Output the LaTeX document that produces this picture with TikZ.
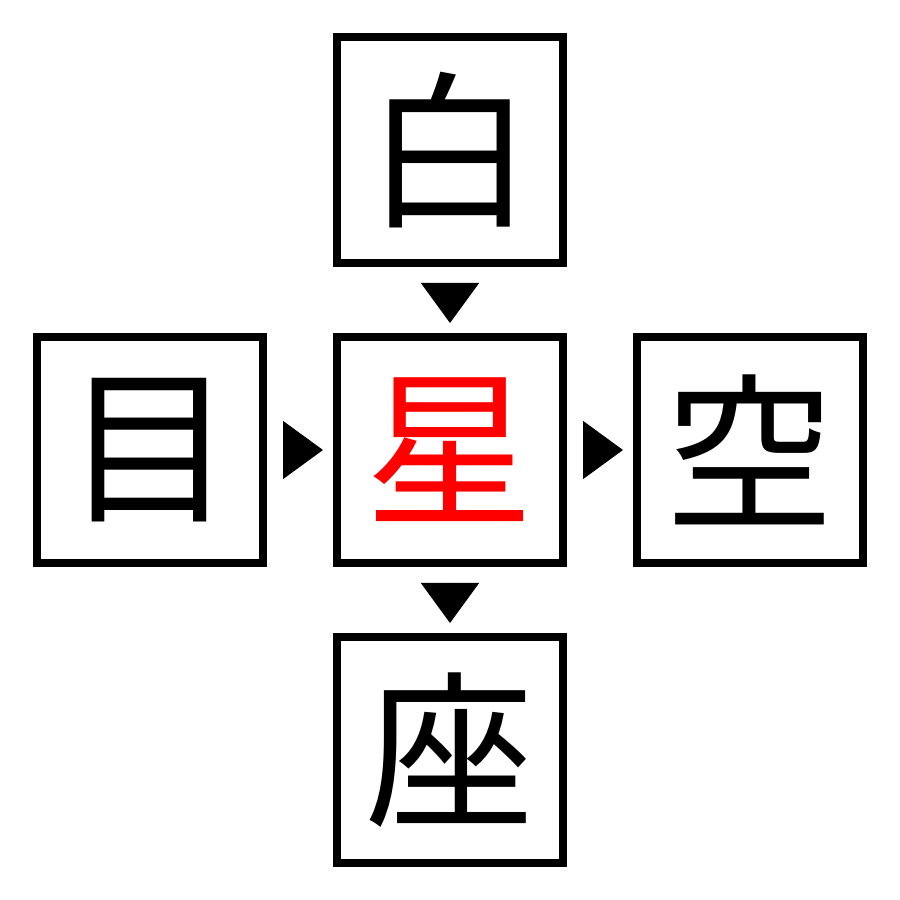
\documentclass[tikz,border=0pt]{standalone}
\usepackage{fontspec}
\newfontfamily\cjk{Noto Sans CJK JP}
\usetikzlibrary{positioning, arrows.meta}

\begin{document}
\begin{tikzpicture}[
        node distance=0.66cm,
        kanji/.style={draw, line width=0.08cm, minimum size=2.26cm, inner sep=0pt,
            font=\cjk\fontsize{48}{48}\selectfont},
        pointer/.style={-{Triangle[length=0.4cm, width=0.58cm]}, thin,
            shorten <=0.16cm, shorten >=0.1cm}
    ]
    \useasboundingbox (0,0) rectangle (9,9);

    \node[kanji, text=red] (hoshi) at (4.5,4.5) {星};
    \node[kanji, above=of hoshi] (shiro) {白};
    \node[kanji, left=of hoshi] (me) {目};
    \node[kanji, right=of hoshi] (sora) {空};
    \node[kanji, below=of hoshi] (za) {座};

    \draw[pointer] (shiro.south) -- (hoshi.north);
    \draw[pointer] (me.east) -- (hoshi.west);
    \draw[pointer] (hoshi.east) -- (sora.west);
    \draw[pointer] (hoshi.south) -- (za.north);
\end{tikzpicture}
\end{document}
